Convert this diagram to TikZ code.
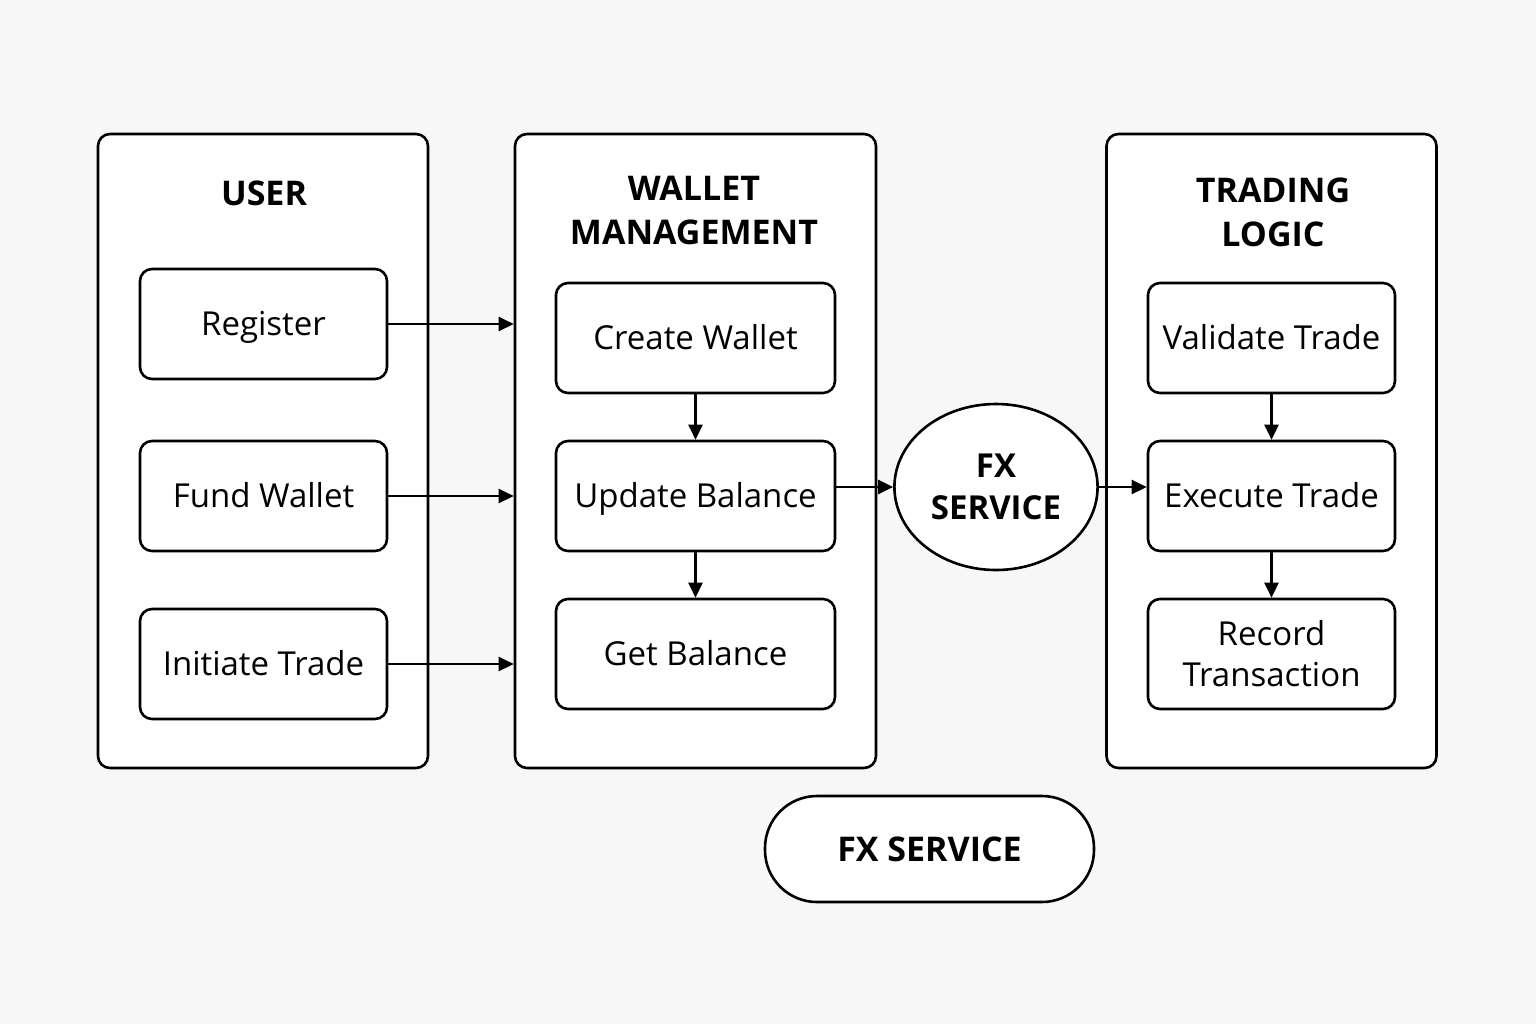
\documentclass[tikz,border=0pt]{standalone}
\usepackage{fontspec}
\setmainfont{Open Sans}
\usetikzlibrary{arrows.meta,shapes.geometric}
\definecolor{bgcol}{HTML}{F7F7F7}
\begin{document}
\begin{tikzpicture}[x=0.5pt, y=-0.5pt, line width=1.3pt,
    panel/.style={draw, fill=white, rounded corners=6pt, minimum width=165pt, minimum height=317pt},
    stepbox/.style={draw, fill=white, rounded corners=6pt, minimum width=123.5pt, minimum height=55pt,
        font=\fontsize{16.5}{20.5}\selectfont, align=center},
    oneline/.style={stepbox, text height=14pt, text depth=3pt},
    heading/.style={font=\fontsize{17}{22}\selectfont\bfseries, align=center},
    link/.style={-{Triangle[length=7.5pt,width=7pt]}, line width=1.2pt}]
    \fill[bgcol] (0,0) rectangle (1536,1024);
    \useasboundingbox (0,0) rectangle (1536,1024);
    % panels
    \node[panel] (user) at (263, 451) {};
    \node[panel, minimum width=180.5pt] (wallet) at (695.5, 451) {};
    \node[panel] (trading) at (1271.5, 451) {};
    \node[heading] (userT) at (264, 193) {USER};
    \node[heading] (walletT) at (694, 210) {WALLET\\MANAGEMENT};
    \node[heading] (tradingT) at (1273, 212) {TRADING\\LOGIC};
    % user steps
    \node[oneline] (reg) at (263.5, 324) {Register};
    \node[oneline] (fund) at (263.5, 496) {Fund Wallet};
    \node[oneline] (init) at (263.5, 664) {Initiate Trade};
    % wallet steps
    \node[oneline, minimum width=139.5pt] (create) at (695.5, 338) {Create Wallet};
    \node[oneline, minimum width=139.5pt] (update) at (695.5, 496) {Update Balance};
    \node[oneline, minimum width=139.5pt] (getbal) at (695.5, 654) {Get Balance};
    % fx service
    \node[ellipse, draw, fill=white, minimum width=98pt, minimum height=83pt, heading, font=\fontsize{16.5}{21}\selectfont\bfseries] (fx) at (996, 487) {FX\\SERVICE};
    % trading steps
    \node[oneline] (valid) at (1271.5, 338) {Validate Trade};
    \node[oneline] (exec) at (1271.5, 496) {Execute Trade};
    \node[stepbox] (record) at (1271.5, 654) {Record\\Transaction};
    % bottom label
    \node[draw, fill=white, rounded corners=26pt, minimum width=164.5pt, minimum height=53pt, heading] (fxsvc) at (929.5, 849) {FX SERVICE};
    % connectors
    \draw[link] (reg.east) -- (reg.east -| wallet.west);
    \draw[link] (fund.east) -- (fund.east -| wallet.west);
    \draw[link] (init.east) -- (init.east -| wallet.west);
    \draw[link] (create) -- (update);
    \draw[link] (update) -- (getbal);
    \draw[link] (update.east |- fx.west) -- (fx.west);
    \draw[link] (fx.east) -- (fx.east -| exec.west);
    \draw[link] (valid) -- (exec);
    \draw[link] (exec) -- (record);
\end{tikzpicture}
\end{document}
